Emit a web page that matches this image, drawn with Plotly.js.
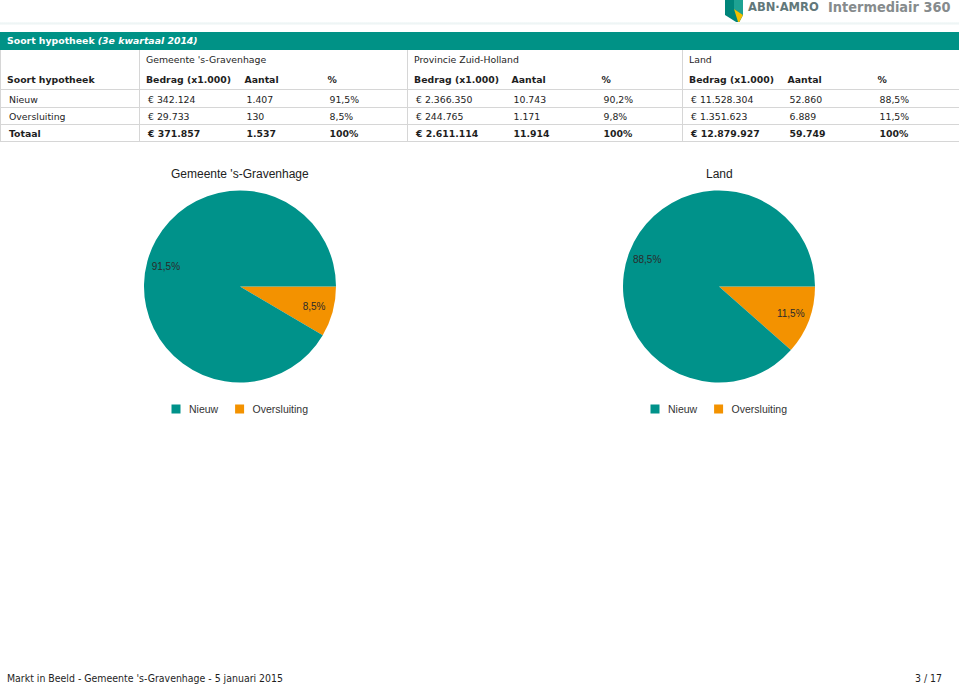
<!DOCTYPE html>
<html><head><meta charset="utf-8">
<script src="https://cdn.plot.ly/plotly-3.0.1.min.js"></script>
<style>
html,body{margin:0;padding:0;background:#fff;}
body{width:959px;height:685px;position:relative;overflow:hidden;font-family:"DejaVu Sans",sans-serif;color:#1e1e1e;}
.cond{font-family:"DejaVu Sans Condensed","DejaVu Sans",sans-serif;font-stretch:condensed;}
#logo{position:absolute;left:725px;top:0;}
#brand{position:absolute;left:748px;top:-1px;font-size:12.8px;font-weight:bold;color:#62787a;line-height:15px;}
#i360{position:absolute;left:828px;top:-1px;font-size:14.4px;font-weight:bold;color:#868b8d;line-height:17px;}
#hline{position:absolute;left:0;top:22px;width:959px;height:3px;background:linear-gradient(#f6fafa,#eef5f5,#f9fbfb);}
#bar{position:absolute;left:0;top:32px;width:959px;height:18px;background:#009286;color:#fff;font-size:9.33px;font-weight:bold;line-height:18px;}
#bar span.t{position:absolute;left:7px;top:0;}
#tbl{position:absolute;left:0;top:50px;border-collapse:collapse;table-layout:fixed;width:959px;font-size:9.33px;}
#tbl td{padding:0 0 0 6px;white-space:nowrap;overflow:hidden;vertical-align:middle;}
#tbl tr.g td{height:19px;}
#tbl tr.h td{height:20px;font-weight:bold;border-bottom:1px solid #d6d6d6;}
#tbl tr.d td{height:15px;padding-left:8px;padding-top:1px;border-bottom:1px solid #d6d6d6;}
#tbl tr.d.n td{height:16px;}
#tbl tr.tot td{font-weight:bold;}
#tbl td.gl{border-left:1px solid #d6d6d6;}
#tbl td.first{border-left:1px solid #d6d6d6;}
#tbl td.last{border-right:1px solid #d6d6d6;}
#tbl td.pc{font-weight:normal;}
.plot{position:absolute;top:150px;width:480px;height:280px;}
#plotL{left:0;}
#plotR{left:479px;}
#foot{position:absolute;left:7px;top:670px;font-size:10.45px;color:#1e1e1e;line-height:16px;}
#page{position:absolute;right:17px;top:670px;font-size:10.45px;color:#1e1e1e;line-height:16px;}
</style>
</head>
<body>
<svg id="logo" width="19" height="24" viewBox="0 0 19 24">
  <path d="M0,0 H18 V15 L13.5,23.5 L0,15 Z" fill="#00857a"/>
  <path d="M9,0 H18 V15 L9,9 Z" fill="#1ea293"/>
  <path d="M9,9 L18,15 L13.5,23.5 Z" fill="#f4c000"/>
</svg>
<div id="brand" class="cond">ABN·AMRO</div>
<div id="i360" class="cond">Intermediair 360</div>
<div id="hline"></div>
<div id="bar"><span class="t" id="barTitle"></span></div>
<table id="tbl"></table>
<div id="plotL" class="plot"></div>
<div id="plotR" class="plot"></div>
<div id="foot" class="cond"></div>
<div id="page" class="cond"></div>
<script>
// ---- data ----
const sectionTitle = 'Soort hypotheek';
const sectionPeriod = '(3e kwartaal 2014)';
const rowHeader = 'Soort hypotheek';
const rowLabels = ['Nieuw', 'Oversluiting', 'Totaal'];
const regionNames = ["Gemeente 's-Gravenhage", 'Provincie Zuid-Holland', 'Land'];
const colHeaders = ['Bedrag (x1.000)', 'Aantal', '%'];

const bedragGemeente = [342124, 29733, 371857];
const aantalGemeente = [1407, 130, 1537];
const pctGemeente = ['91,5%', '8,5%', '100%'];

const bedragProvincie = [2366350, 244765, 2611114];
const aantalProvincie = [10743, 1171, 11914];
const pctProvincie = ['90,2%', '9,8%', '100%'];

const bedragLand = [11528304, 1351623, 12879927];
const aantalLand = [52860, 6889, 59749];
const pctLand = ['88,5%', '11,5%', '100%'];

const pieLabels = ['Nieuw', 'Oversluiting'];
const pieTitles = ["Gemeente 's-Gravenhage", 'Land'];
const pieColors = ['#00928a', '#f39200'];

const footerText = "Markt in Beeld - Gemeente 's-Gravenhage - 5 januari 2015";
const pageText = '3 / 17';

// ---- table ----
function nl(n){ return String(n).replace(/\B(?=(\d{3})+(?!\d))/g, '.'); }
document.getElementById('barTitle').innerHTML = sectionTitle + ' <i>' + sectionPeriod + '</i>';
const colW = [139, 99, 83, 86, 98, 90, 87, 99, 90, 88];
const regionData = [
  [bedragGemeente, aantalGemeente, pctGemeente],
  [bedragProvincie, aantalProvincie, pctProvincie],
  [bedragLand, aantalLand, pctLand]
];
let html = '<colgroup>' + colW.map(w => '<col style="width:' + w + 'px">').join('') + '</colgroup>';
html += '<tr class="g"><td class="first"></td>' + regionNames.map(r => '<td class="gl" colspan="3">' + r + '</td>').join('') + '</tr>';
html += '<tr class="h"><td class="first">' + rowHeader + '</td>';
regionNames.forEach((r, i) => {
  html += '<td class="gl">' + colHeaders[0] + '</td><td>' + colHeaders[1] + '</td><td class="pc' + (i === 2 ? ' last' : '') + '">' + colHeaders[2] + '</td>';
});
html += '</tr>';
rowLabels.forEach((lab, ri) => {
  html += '<tr class="d' + (ri === 0 ? ' n' : '') + (ri === 2 ? ' tot' : '') + '"><td class="first">' + lab + '</td>';
  regionData.forEach((rd, gi) => {
    html += '<td class="gl">€ ' + nl(rd[0][ri]) + '</td><td>' + nl(rd[1][ri]) + '</td><td' + (gi === 2 ? ' class="last"' : '') + '>' + rd[2][ri] + '</td>';
  });
  html += '</tr>';
});
document.getElementById('tbl').innerHTML = html;
document.getElementById('foot').textContent = footerText;
document.getElementById('page').textContent = pageText;

// ---- pies ----
const W = 480, H = 280;
const R = 96;
const CX = 240;
const cyFromBottom = H - 136.5;
const dom = { x: [(CX - R) / W, (CX + R) / W], y: [(cyFromBottom - R) / H, (cyFromBottom + R) / H] };
const font = 'Liberation Sans, Arial, sans-serif';

function drawPie(divId, title, values) {
  // slices listed from the 3 o'clock point clockwise: Oversluiting first, then Nieuw
  const labs = pieLabels.slice().reverse();
  const vals = values.slice().reverse();
  const cols = pieColors.slice().reverse();
  const common = {
    type: 'pie', labels: labs, values: vals, sort: false,
    direction: 'clockwise', rotation: 90, domain: dom, hoverinfo: 'none'
  };
  const pie = Object.assign({}, common, {
    marker: { colors: cols, line: { width: 0 } },
    textinfo: 'none'
  });
  // transparent ring carrying the percentage labels at ~0.8 of the radius
  const labelsRing = Object.assign({}, common, {
    hole: 0.6, showlegend: false,
    marker: { colors: ['rgba(0,0,0,0)', 'rgba(0,0,0,0)'], line: { width: 0 } },
    texttemplate: '%{percent:.1%}', textposition: 'inside', insidetextorientation: 'horizontal',
    textfont: { family: font, size: 10, color: '#2b2b2b' }
  });
  const layout = {
    width: W, height: H,
    margin: { l: 0, r: 0, t: 0, b: 0 },
    paper_bgcolor: 'rgba(0,0,0,0)', plot_bgcolor: 'rgba(0,0,0,0)',
    separators: ',.',
    showlegend: true,
    legend: {
      orientation: 'h', traceorder: 'reversed', x: 0.5 + 4 / W, xanchor: 'center', y: 21 / H, yanchor: 'middle',
      font: { family: font, size: 10.5, color: '#333' },
      bgcolor: 'rgba(0,0,0,0)', itemclick: false, itemdoubleclick: false
    },
    annotations: [{
      text: title, xref: 'paper', yref: 'paper', x: 0.5, y: (H - 24) / H,
      xanchor: 'center', yanchor: 'middle', showarrow: false,
      font: { family: font, size: 12, color: '#222' }
    }]
  };
  return Plotly.newPlot(divId, [pie, labelsRing], layout, { displayModeBar: false, staticPlot: true })
    .then(gd => {
      gd.querySelectorAll('.legendpie').forEach(p => p.setAttribute('d', 'M4.5,4.5H-4.5V-4.5H4.5Z'));
      gd.querySelectorAll('.legendtext').forEach(t => {
        const x = parseFloat(t.getAttribute('x')) || 40;
        t.setAttribute('x', x - 7);
        t.querySelectorAll('tspan').forEach(s => { if (s.hasAttribute('x')) s.setAttribute('x', x - 7); });
      });
      // tighten the spacing between legend entries
      gd.querySelectorAll('.legend .traces').forEach((g, k) => {
        const tr = g.getAttribute('transform') || '';
        const m = tr.match(/translate\(\s*([-\d.]+)[ ,]+([-\d.]+)\s*\)/);
        if (m && k > 0) g.setAttribute('transform', 'translate(' + (parseFloat(m[1]) - 11 * k) + ',' + m[2] + ')');
      });
    });
}
drawPie('plotL', pieTitles[0], aantalGemeente.slice(0, 2));
drawPie('plotR', pieTitles[1], aantalLand.slice(0, 2));
</script>
</body></html>
